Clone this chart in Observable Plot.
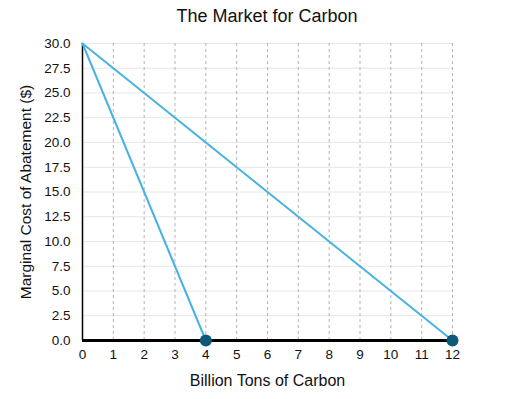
<!DOCTYPE html>
<html><head><meta charset="utf-8">
<script src="https://cdn.jsdelivr.net/npm/d3@7"></script>
<script src="https://cdn.jsdelivr.net/npm/@observablehq/plot@0.6"></script>
<style>
body{margin:0;background:#fff;font-family:"Liberation Sans",Arial,Helvetica,sans-serif;}
#wrap{width:509px;}
#title{height:30px;line-height:32px;text-align:center;font-size:18px;color:#111;padding-left:25px;box-sizing:border-box;}
</style></head>
<body><div id="wrap"><div id="title">The Market for Carbon</div><div id="chart"></div></div>
<script>
const title = "The Market for Carbon";
const xLabel = "Billion Tons of Carbon";
const yLabel = "Marginal Cost of Abatement ($)";
const steepX = [0, 4];
const steepY = [30, 0];
const flatX = [0, 12];
const flatY = [30, 0];
const pointX = [4, 12];
const pointY = [0, 0];
const xTicks = [0,1,2,3,4,5,6,7,8,9,10,11,12];
const yTicks = [0,2.5,5,7.5,10,12.5,15,17.5,20,22.5,25,27.5,30];

const steep = steepX.map((x,i)=>({x, y: steepY[i]}));
const flat = flatX.map((x,i)=>({x, y: flatY[i]}));
const pts = pointX.map((x,i)=>({x, y: pointY[i]}));

const chart = Plot.plot({
  width: 509,
  height: 369,
  marginLeft: 82,
  marginRight: 57,
  marginTop: 13,
  marginBottom: 59,
  style: {fontFamily: '"Liberation Sans", Arial, sans-serif', fontSize: "14px", color: "#111", background: "#fff"},
  x: {domain: [0, 12]},
  y: {domain: [0, 30]},
  marks: [
    Plot.gridY(yTicks, {stroke: "#e6e6e6", strokeOpacity: 1}),
    Plot.gridX(xTicks.filter(d => d !== 0), {stroke: "#b3b3b3", strokeOpacity: 1, strokeDasharray: "3,3"}),
    Plot.axisY(yTicks, {tickSize: 0, tickPadding: 12, tickFormat: d => d.toFixed(1), label: yLabel, labelAnchor: "center", labelArrow: "none", labelOffset: 63}),
    Plot.axisX(xTicks, {tickSize: 0, tickPadding: 9, tickFormat: d => String(d), label: xLabel, labelAnchor: "center", labelArrow: "none", labelOffset: 45}),
    Plot.ruleX([0], {stroke: "#000", strokeWidth: 1.5}),
    Plot.ruleY([0], {x1: 0, x2: 12, stroke: "#000", strokeWidth: 3}),
    Plot.line(steep, {x: "x", y: "y", stroke: "#47b3e3", strokeWidth: 2}),
    Plot.line(flat, {x: "x", y: "y", stroke: "#47b3e3", strokeWidth: 2}),
    Plot.dot(pts, {x: "x", y: "y", r: 6, fill: "#0c5a78", stroke: "none"})
  ]
});
chart.querySelectorAll("g[aria-label]").forEach(g => {
  const a = g.getAttribute("aria-label");
  let fs = null;
  if (a === "x-axis label") fs = "16px";
  else if (a === "y-axis label") fs = "15.5px";
  else if (a.includes("axis") && a.includes("tick")) fs = "13.5px";
  if (fs) {
    g.setAttribute("font-size", fs);
    g.style.fontSize = fs;
    g.querySelectorAll("text").forEach(t => { t.setAttribute("font-size", fs); t.style.fontSize = fs; });
  }
});
document.getElementById("chart").appendChild(chart);
</script>
</body></html>
